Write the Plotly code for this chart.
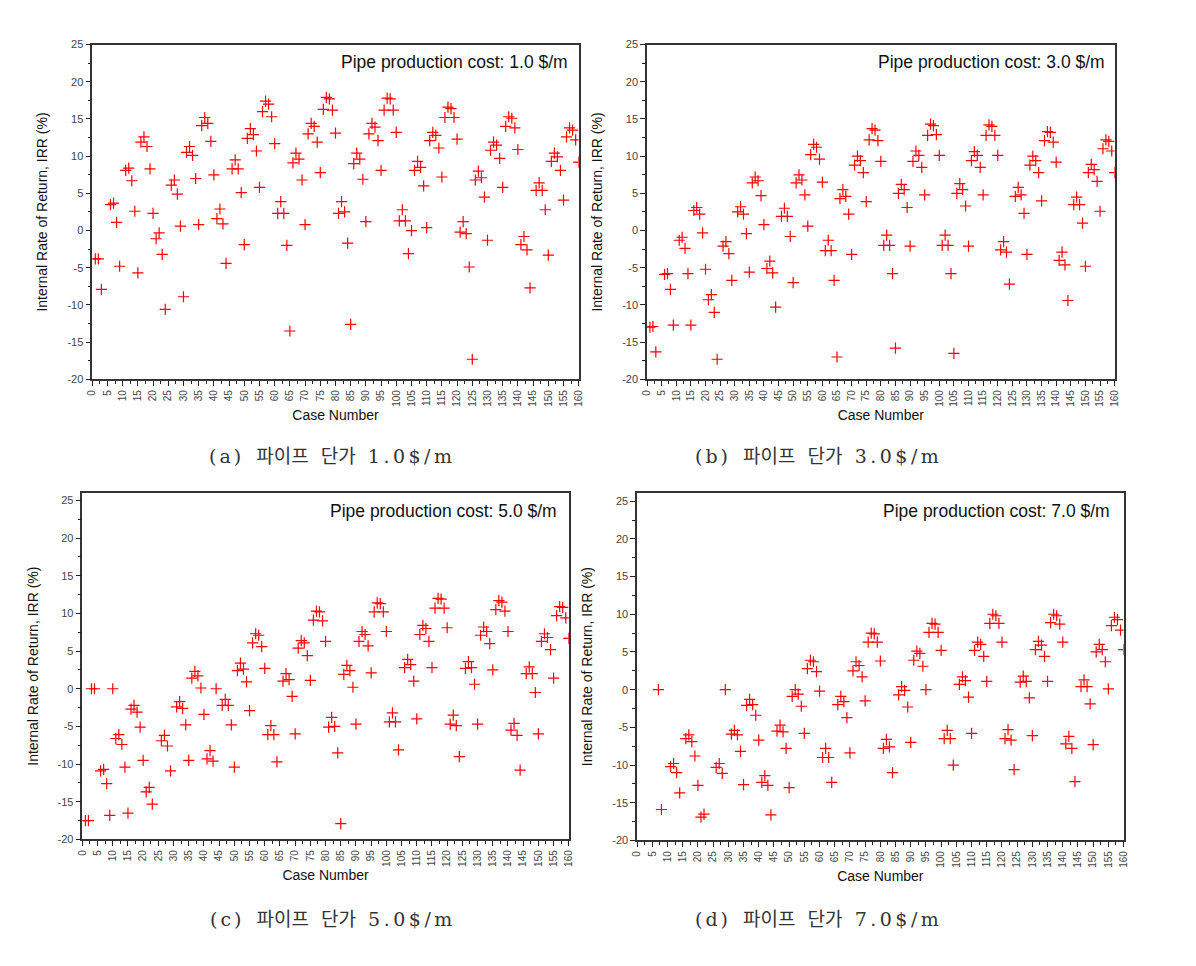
import plotly.graph_objects as go

case_no = list(range(1, 161))

irr_a = [-3.8, -3.8, -7.9, None, None, 3.5, 3.7, 1.1, -4.8, None,
         8.1, 8.4, 6.7, 2.6, -5.7, 11.9, 12.6, 11.3, 8.3, 2.3,
         -1.1, -0.3, -3.2, -10.6, None, 6.1, 6.8, 4.9, 0.6, -8.9,
         10.5, 11.3, 10.1, 7.0, 0.8, 14.1, 15.2, 14.4, 12.0, 7.5,
         1.6, 2.9, 0.9, -4.4, None, 8.3, 9.5, 8.3, 5.1, -1.9,
         12.4, 13.7, 12.9, 10.7, 5.8, 16.0, 17.4, 17.0, 15.3, 11.7,
         2.3, 3.9, 2.3, -2.0, -13.5, 9.1, 10.4, 9.6, 6.8, 0.8,
         13.0, 14.4, 14.0, 11.9, 7.8, 16.3, 17.9, 17.7, 16.2, 13.1,
         2.3, 3.9, 2.5, -1.7, -12.6, 9.0, 10.4, 9.6, 6.9, 1.2,
         13.0, 14.4, 13.9, 12.1, 8.1, 16.2, 17.8, 17.7, 16.2, 13.2,
         1.3, 2.8, 1.3, -3.1, 0.0, 8.1, 9.3, 8.5, 6.0, 0.4,
         12.1, 13.2, 12.8, 11.1, 7.2, 15.2, 16.6, 16.4, 15.2, 12.3,
         -0.2, 1.2, -0.4, -4.9, -17.3, 6.8, 8.0, 7.1, 4.5, -1.3,
         10.8, 11.9, 11.5, 9.7, 5.8, 14.0, 15.3, 15.1, 13.8, 10.9,
         -1.9, -0.8, -2.6, -7.7, None, 5.4, 6.4, 5.4, 2.8, -3.3,
         9.3, 10.4, 9.9, 8.1, 4.1, 12.6, 13.8, 13.5, 12.2, 9.2]

irr_b = [-13.0, -12.9, -16.3, None, None, -5.9, -5.8, -7.9, -12.7, None,
         -1.3, -0.9, -2.4, -5.8, -12.7, 2.7, 3.1, 2.2, -0.3, -5.2,
         -9.3, -8.6, -11.0, -17.3, None, -2.1, -1.5, -3.1, -6.7, None,
         2.5, 3.2, 2.2, -0.4, -5.6, 6.4, 7.2, 6.7, 4.7, 0.8,
         -5.1, -4.1, -5.7, -10.3, None, 1.9, 3.0, 1.9, -0.8, -7.0,
         6.4, 7.5, 6.8, 4.8, 0.6, 10.2, 11.6, 11.2, 9.6, 6.5,
         -2.7, -1.3, -2.7, -6.7, -17.0, 4.3, 5.5, 4.6, 2.2, -3.2,
         8.8, 10.0, 9.4, 7.8, 3.9, 12.2, 13.7, 13.5, 12.1, 9.3,
         -2.0, -0.6, -2.0, -5.8, -15.8, 5.0, 6.2, 5.5, 3.1, -2.1,
         9.3, 10.7, 10.1, 8.5, 4.8, 12.8, 14.3, 14.1, 12.9, 10.1,
         -2.0, -0.6, -2.0, -5.8, -16.5, 5.0, 6.3, 5.5, 3.3, -2.1,
         9.4, 10.6, 10.1, 8.5, 4.8, 12.8, 14.2, 14.0, 12.8, 10.1,
         -2.6, -1.5, -2.9, -7.2, None, 4.6, 5.8, 4.8, 2.3, -3.2,
         8.8, 10.0, 9.4, 7.8, 4.0, 12.1, 13.3, 13.2, 11.9, 9.2,
         -4.0, -2.9, -4.6, -9.4, None, 3.5, 4.5, 3.5, 1.0, -4.8,
         7.8, 8.9, 8.2, 6.6, 2.6, 11.0, 12.2, 12.0, 10.7, 7.8]

irr_c = [-17.5, -17.5, 0.0, 0.0, None, -10.9, -10.7, -12.6, -16.8, 0.0,
         -6.6, -6.1, -7.4, -10.4, -16.5, -2.7, -2.2, -3.1, -5.1, -9.5,
         -13.7, -13.1, -15.3, None, None, -6.9, -6.2, -7.6, -10.9, None,
         -2.4, -1.7, -2.6, -4.8, -9.5, 1.4, 2.3, 1.7, 0.1, -3.4,
         -9.3, -8.2, -9.6, 0.0, None, -2.2, -1.4, -2.2, -4.8, -10.4,
         2.4, 3.4, 2.6, 0.9, -2.9, 6.1, 7.3, 7.1, 5.6, 2.7,
         -6.1, -4.9, -6.1, -9.7, None, 1.0, 2.0, 1.2, -1.0, -6.0,
         5.4, 6.4, 6.1, 4.4, 1.1, 9.1, 10.3, 10.2, 9.0, 6.3,
         -5.1, -3.8, -5.0, -8.5, -17.9, 1.9, 3.1, 2.4, 0.2, -4.7,
         6.3, 7.6, 7.2, 5.7, 2.1, 10.2, 11.4, 11.3, 10.2, 7.6,
         -4.4, -3.2, -4.4, -8.1, None, 2.8, 3.9, 3.2, 1.0, -4.0,
         7.2, 8.4, 8.0, 6.3, 2.8, 10.7, 12.0, 11.9, 10.7, 8.1,
         -4.7, -3.5, -4.9, -9.0, None, 2.7, 3.6, 2.8, 0.6, -4.7,
         7.1, 8.2, 7.6, 6.0, 2.5, 10.5, 11.7, 11.5, 10.3, 7.6,
         -5.5, -4.6, -6.2, -10.8, None, 2.0, 2.9, 2.0, -0.5, -6.0,
         6.3, 7.3, 6.8, 5.2, 1.4, 9.7, 10.9, 10.8, 9.4, 6.7]

irr_d = [None, None, None, None, None, None, 0.0, -15.9, None, None,
         -10.2, -9.8, -11.0, -13.7, None, -6.5, -6.0, -6.9, -8.8, -12.7,
         -16.9, -16.5, None, None, None, -10.3, -9.8, -11.1, 0.0, None,
         -5.9, -5.4, -6.0, -8.2, -12.6, -2.1, -1.3, -2.0, -3.4, -6.7,
         -12.3, -11.4, -12.7, -16.6, None, -5.5, -4.7, -5.6, -7.8, -13.0,
         -0.9, 0.0, -0.6, -2.2, -5.8, 2.8, 3.9, 3.7, 2.4, -0.2,
         -9.0, -7.8, -9.0, -12.3, None, -2.0, -0.9, -1.6, -3.7, -8.4,
         2.5, 3.7, 3.2, 1.7, -1.5, 6.3, 7.5, 7.4, 6.3, 3.8,
         -7.8, -6.6, -7.6, -11.0, None, -0.7, 0.4, -0.1, -2.3, -7.0,
         3.9, 5.1, 4.8, 3.1, 0.0, 7.6, 8.8, 8.7, 7.6, 5.2,
         -6.5, -5.4, -6.5, -10.0, None, 0.7, 1.7, 1.2, -1.0, -5.8,
         5.2, 6.3, 6.0, 4.4, 1.1, 8.8, 10.0, 9.8, 8.8, 6.3,
         -6.5, -5.3, -6.7, -10.6, None, 1.0, 1.8, 1.1, -1.1, -6.1,
         5.3, 6.4, 5.9, 4.4, 1.1, 8.9, 10.0, 9.8, 8.7, 6.3,
         -7.2, -6.2, -7.8, -12.2, None, 0.4, 1.3, 0.4, -1.9, -7.3,
         5.0, 6.0, 5.3, 3.7, 0.1, 8.5, 9.6, 9.3, 7.9, 5.3]

cost_labels = ["Pipe production cost: 1.0 $/m", "Pipe production cost: 3.0 $/m",
               "Pipe production cost: 5.0 $/m", "Pipe production cost: 7.0 $/m"]
cap_letters = ["a", "b", "c", "d"]
cap_costs = ["1.0$/m", "3.0$/m", "5.0$/m", "7.0$/m"]
x_ticks = list(range(0, 161, 5))
y_ticks = list(range(-20, 26, 5))

# the page body adds an 8 px margin, so work in page pixels and shift by 8
OFF = 8
W, H = 1196 - 2 * OFF, 966 - 2 * OFF
# plot boxes in page pixels: left, right, top, bottom
boxes = [(87, 578, 39, 378), (647, 1119, 39, 378),
         (77, 568, 493, 844), (637, 1128, 493, 845)]
y_tops = [25, 25, 26, 26.1]
text_x = [0.982, 0.984, 0.98, 0.977]
caption_pos = [(330, 456), (820, 456), (330, 925), (820, 925)]
series = [irr_a, irr_b, irr_c, irr_d]

fig = go.Figure()
font_main = "Liberation Sans, Arial, sans-serif"
for i in range(4):
    n = "" if i == 0 else str(i + 1)
    fig.add_trace(go.Scatter(
        x=case_no, y=series[i], mode="markers", xaxis="x" + n, yaxis="y" + n,
        marker=dict(symbol="cross-thin", size=8, line=dict(color="#ff0000", width=1.2), color="#ff0000"),
        showlegend=False))
    l, r, t, b = [v - OFF for v in boxes[i]]
    xa = dict(domain=[l / W, r / W], range=[0, 160], anchor="y" + n,
              tickmode="array", tickvals=x_ticks, ticktext=[str(v) for v in x_ticks],
              tickangle=-90, ticks="outside", ticklen=5, tickwidth=1.2, tickcolor="#222",
              minor=dict(ticks="outside", dtick=2.5, ticklen=3, tickcolor="#222", tickwidth=1),
              showline=True, linecolor="#333", linewidth=1.5, mirror=True,
              showgrid=False, zeroline=False,
              tickfont=dict(family=font_main, size=10, color="#444"),
              title=dict(text="Case Number", font=dict(family=font_main, size=14, color="#111"), standoff=4))
    ya = dict(domain=[1 - b / H, 1 - t / H], range=[-20, y_tops[i]], anchor="x" + n,
              tickmode="array", tickvals=y_ticks, ticktext=[str(v) for v in y_ticks],
              ticks="outside", ticklen=5, tickwidth=1.2, tickcolor="#222",
              minor=dict(ticks="outside", dtick=2.5, ticklen=3, tickcolor="#222", tickwidth=1),
              showline=True, linecolor="#333", linewidth=1.5, mirror=True,
              showgrid=False, zeroline=False,
              tickfont=dict(family=font_main, size=11, color="#444"),
              title=dict(text="Internal Rate of Return, IRR (%)",
                         font=dict(family=font_main, size=14, color="#111"), standoff=16))
    fig.update_layout(**{"xaxis" + n: xa, "yaxis" + n: ya})
    fig.add_annotation(text=cost_labels[i], xref="x" + n + " domain", yref="y" + n + " domain",
                       x=text_x[i], y=1 - 18 / (b - t), xanchor="right", yanchor="middle",
                       showarrow=False, font=dict(family=font_main, size=17.5, color="#111"))
    cx, cy = caption_pos[i]
    cap = ('<span style="letter-spacing:3px">(' + cap_letters[i] + ')</span>  파이프  단가  '
           '<span style="letter-spacing:3.5px">' + cap_costs[i] + '</span>')
    fig.add_annotation(text=cap, xref="paper", yref="paper",
                       x=(cx - OFF) / W, y=1 - (cy - OFF) / H, xanchor="center", yanchor="middle",
                       showarrow=False,
                       font=dict(family="DejaVu Serif, Noto Sans CJK KR, serif", size=19, color="#333"))

fig.update_layout(width=W, height=H, margin=dict(l=0, r=0, t=0, b=0),
                  plot_bgcolor="white", paper_bgcolor="white")
fig.write_html("out.html")
